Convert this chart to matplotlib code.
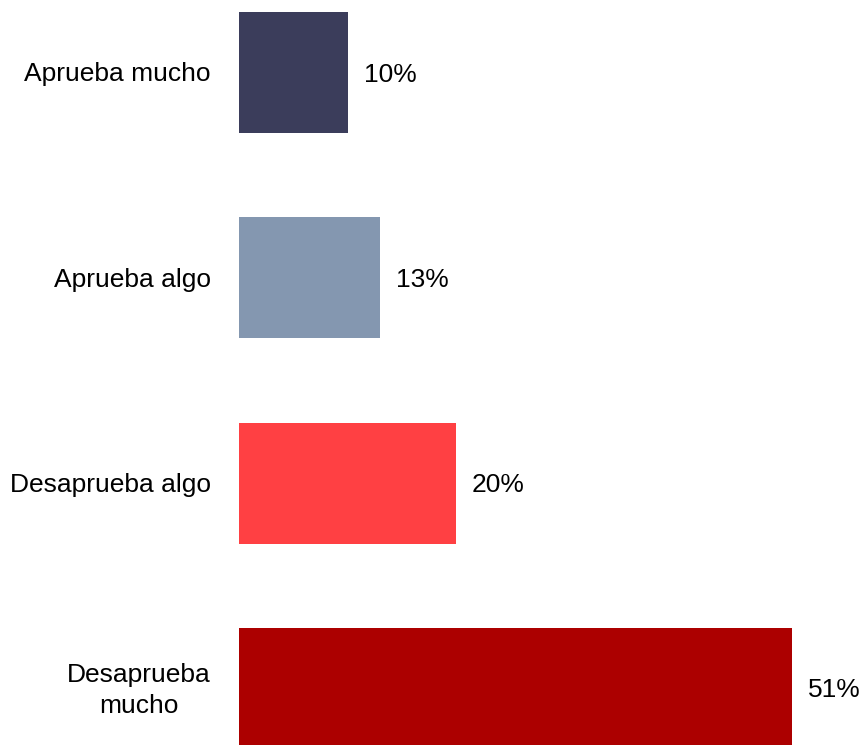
import matplotlib
matplotlib.use("Agg")
import matplotlib.pyplot as plt
from matplotlib import font_manager

categories = ["Aprueba mucho", "Aprueba algo", "Desaprueba algo", "Desaprueba\nmucho"]
values = [10, 13, 20, 51]
labels = ["10%", "13%", "20%", "51%"]
colors = ["#3B3D5B", "#8497B0", "#FF4043", "#AC0000"]

names = {f.name for f in font_manager.fontManager.ttflist}
fam = "Liberation Sans Narrow" if "Liberation Sans Narrow" in names else "Liberation Sans"

W, H = 861, 745
fig = plt.figure(figsize=(W / 100, H / 100), dpi=100)
left = 239
ax = fig.add_axes([left / W, 0, (W - left) / W, 1])
px_per = 10.85
ax.set_xlim(0, (W - left) / px_per)
spacing = 205.3
c0 = 72.5
ax.set_ylim((H - c0) / spacing, -c0 / spacing)
ypos = list(range(len(categories)))
ax.barh(ypos, values, height=121 / spacing, color=colors)
fs = 19
for y, v, lab, cat in zip(ypos, values, labels, categories):
    ax.text(v + 16 / px_per, y + 2 / spacing, lab, va="center", ha="left", fontsize=fs,
            family=fam, color="#000000")
    ax.text(-28 / px_per, y + 2 / spacing, cat, va="center", ha="right", fontsize=fs,
            family=fam, multialignment="center", color="#000000",
            linespacing=1.35)
ax.axis("off")
fig.savefig("out.png", dpi=100)
